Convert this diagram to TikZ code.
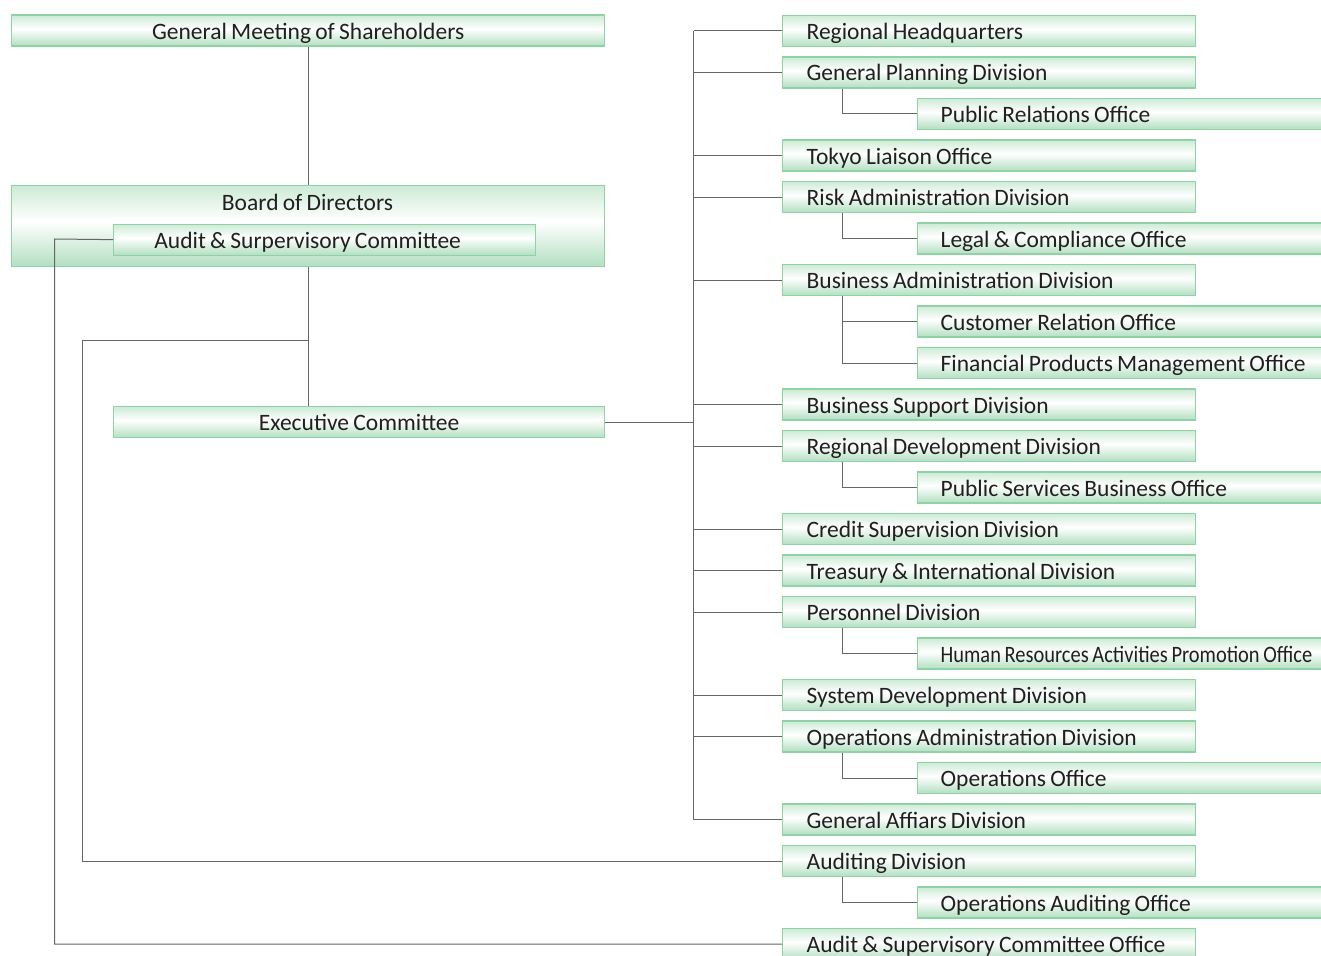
\documentclass[tikz,border=0pt]{standalone}
\usepackage{fontspec}
\setmainfont[WordSpace=0.8]{Carlito}
\newfontfamily\narrowfont[FakeStretch=0.87,WordSpace=0.8]{Carlito}
\definecolor{gbord}{HTML}{8ED2A6}
\definecolor{gtop}{HTML}{CDEBD6}
\definecolor{gbot}{HTML}{B2DFC1}
\definecolor{linec}{HTML}{666666}
\definecolor{textc}{HTML}{231F20}
\pgfdeclareverticalshading{boxshade}{100bp}{color(0bp)=(gbot); color(25bp)=(gbot); color(53bp)=(white); color(75bp)=(gtop); color(100bp)=(gtop)}
\tikzset{
  txt/.style={text=textc, font=\fontsize{23.5}{26}\selectfont, text height=20, text depth=3,
    execute at begin node={\spaceskip=0pt\xspaceskip=0pt\relax}},
  box/.style={txt, draw=gbord, line width=1.3pt, shading=boxshade, inner sep=0pt,
    minimum height=31},
  divbox/.style={box, anchor=west, text width=365, inner xsep=24, align=left},
  subbox/.style={box, anchor=west, text width=400, inner xsep=23, align=left},
  conn/.style={draw=linec, line width=1pt}
}
\begin{document}
\begin{tikzpicture}[x=1pt,y=-1pt]
\clip (0,0) rectangle (1321,955);
\fill[white] (0,0) rectangle (1321,955);
% left side
\node[box, minimum width=593, anchor=north west] (gm) at (11,14.5) {General Meeting of Shareholders};
\node[box, minimum width=593, minimum height=81, anchor=north west] (bod) at (11,185) {};
\node[txt] (bodt) at (307.5,202) {Board of Directors};
\node[box, minimum width=422, anchor=north west] (asc) at (113,223.5) {Audit \& Surpervisory Committee\kern34pt};
\node[box, minimum width=491, anchor=north west] (exec) at (113,406) {Executive Committee};
% divisions
\node[divbox] (rhq) at (782,31) {Regional Headquarters};
\node[divbox] (gpd) at (782,72.5) {General Planning Division};
\node[subbox] (pro) at (917,114) {Public Relations Office};
\node[divbox] (tlo) at (782,155.5) {Tokyo Liaison Office};
\node[divbox] (rad) at (782,197) {Risk Administration Division};
\node[subbox] (lco) at (917,238.5) {Legal \& Compliance Office};
\node[divbox] (bad) at (782,280) {Business Administration Division};
\node[subbox] (cro) at (917,321.5) {Customer Relation Office};
\node[subbox] (fpm) at (917,363) {Financial Products Management Office};
\node[divbox] (bsd) at (782,404.5) {Business Support Division};
\node[divbox] (rdd) at (782,446) {Regional Development Division};
\node[subbox] (psb) at (917,487.5) {Public Services Business Office};
\node[divbox] (csd) at (782,529) {Credit Supervision Division};
\node[divbox] (tid) at (782,570.5) {Treasury \& International Division};
\node[divbox] (ped) at (782,612) {Personnel Division};
\node[subbox] (hra) at (917,653.5) {\narrowfont Human Resources Activities Promotion Office};
\node[divbox] (sdd) at (782,695) {System Development Division};
\node[divbox] (oad) at (782,736.5) {Operations Administration Division};
\node[subbox] (opo) at (917,778) {Operations Office};
\node[divbox] (gad) at (782,819.5) {General Affiars Division};
\node[divbox] (aud) at (782,861) {Auditing Division};
\node[subbox] (oao) at (917,902.5) {Operations Auditing Office};
\node[divbox] (acso) at (782,944) {Audit \& Supervisory Committee Office};
% connectors
\coordinate (spine) at (693.5,0);
\coordinate (j1) at (307.5,340.5);
\draw[conn] (gm.south) -- (bod.north);
\draw[conn] (bod.south) -- (bod.south |- exec.north);
\draw[conn] (j1) -- (82.5,340.5) |- (aud.west);
\draw[conn] (asc.west) -- (54.5,239) |- (acso.west);
\draw[conn] (exec.east) -- (spine |- exec.east);
\draw[conn] (spine |- rhq.west) -- (spine |- gad.west);
\foreach \n in {rhq,gpd,tlo,rad,bad,bsd,rdd,csd,tid,ped,sdd,oad,gad}
  \draw[conn] (spine |- \n.west) -- (\n.west);
\foreach \p/\s in {gpd/pro,rad/lco,bad/cro,bad/fpm,rdd/psb,ped/hra,oad/opo,aud/oao}
  \draw[conn] ([xshift=60.5]\p.south west) |- (\s.west);
\end{tikzpicture}
\end{document}
